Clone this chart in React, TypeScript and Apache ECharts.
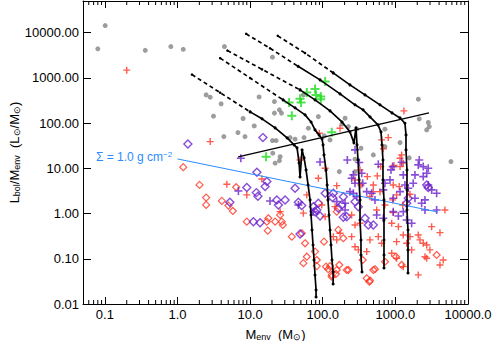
import React, { useEffect, useRef } from "react";
import * as echarts from "echarts";

const FONT = "Liberation Sans, Arial, Helvetica, sans-serif";

// ---- data (M_env [Msun], L_bol/M_env [Lsun/Msun]) ----
const greyPoints: [number, number][] = [
  [0.08, 4380], [0.101, 14300], [0.36, 4050], [0.81, 4920], [1.2, 4270], [4.43, 4920],
  [2.48, 420], [2.82, 374], [3.99, 266], [3.13, 142], [8.0, 126], [6.8, 61.6], [4.35, 50.2],
  [8.5, 50.2], [20.3, 2870], [13.3, 379], [21.6, 299], [25.3, 196], [21.6, 166], [27.0, 166],
  [54, 420], [2070, 338], [2130, 124], [11.4, 86.6], [20.3, 41.0], [22.8, 41.0], [35.5, 47.7],
  [41.6, 44.0], [63.4, 77.1], [105, 52.1], [126, 42.5], [294, 73.2], [225, 83.6], [719, 73.2],
  [1160, 37.0], [2840, 103], [2930, 83.6], [5820, 14.1], [20.5, 21.6], [25.9, 18.1], [25.3, 14.8],
  [278, 15.9], [497, 19.8], [719, 30.2], [1550, 17.0], [22.1, 13.0], [184, 94.5], [336, 27.8],
  [203, 128], [87, 139], [2700, 70.7], [55.3, 47.7], [169, 8.45], [278, 8.45],
];

const greenPlus: [number, number][] = [
  [34.4, 284], [37.5, 146], [48.7, 343], [50.3, 284], [60.3, 472], [78.3, 570], [80.9, 420],
  [93.9, 385], [93.9, 338], [108, 827], [133, 62.9], [16.6, 18.1],
];

const redPlus: [number, number][] = [
  [0.2, 1480], [2.82, 38.9], [1310, 186], [173, 77.1], [89.8, 59.7], [48.7, 15.3], [648, 42.5],
  [798, 47.7], [682, 26.9], [1220, 19.8], [1160, 16.7], [1285, 13.0], [957, 11.5], [108, 10.0],
  [87, 6.04], [156, 4.14], [96.9, 1.55], [60.3, 2.58], [14.5, 5.82], [25.9, 1.1], [54.1, 1.02],
  [148, 1.42], [326, 9.21], [278, 5.54], [336, 4.29], [4.78, 4.45], [9.0, 2.58], [1160, 10.9],
  [628, 10.9], [564, 6.79], [411, 6.55], [497, 4.29], [935, 4.29], [1130, 3.94], [497, 3.05],
  [614, 3.05], [1040, 2.58], [918, 2.0], [447, 2.36], [719, 1.55], [553, 1.2], [1260, 1.55],
  [1590, 2.67], [4810, 1.2], [935, 1.05], [890, 0.61], [1100, 0.513], [1285, 0.336], [1040, 0.239],
  [1430, 0.22], [1675, 0.157], [2065, 0.336], [2180, 0.261], [2420, 0.22], [2990, 0.157],
  [3160, 0.513], [4110, 0.378], [4560, 0.094], [4110, 0.073], [2700, 0.103], [2065, 0.044],
  [1285, 0.067], [890, 0.132], [1040, 0.103], [582, 0.308], [447, 0.261], [403, 0.144], [648, 0.22],
  [1590, 0.308], [2700, 0.202], [140, 0.308], [156, 0.261], [108, 0.854], [250, 0.93], [278, 0.56],
  [326, 0.61], [173, 0.367], [250, 0.308], [278, 0.185], [309, 0.157], [2555, 0.111],
];

const purplePlus: [number, number][] = [
  [7.45, 16.7], [278, 25.5], [218, 15.3], [319, 13.4], [582, 12.3], [1220, 13.6], [2130, 15.3],
  [2065, 11.9], [2420, 10.9], [91.8, 13.8], [250, 6.04], [344, 7.79], [278, 4.68], [18.8, 1.9],
  [46.2, 1.55], [74.3, 1.1], [237, 3.05], [294, 2.36], [203, 1.69], [156, 1.83], [203, 1.2],
  [6.9, 3.16], [2835, 10.0], [918, 10.9], [870, 9.21], [1285, 7.14], [1860, 7.14], [2420, 6.55],
  [2700, 7.79], [843, 5.54], [719, 4.68], [1355, 4.29], [1760, 4.68], [682, 3.33], [1160, 3.05],
  [1505, 3.63], [3160, 3.33], [3700, 2.81], [935, 2.18], [1860, 2.18], [2555, 2.0], [1285, 1.1],
  [935, 1.1], [524, 2.0], [403, 3.05], [1100, 0.885], [1430, 0.722], [1675, 0.61], [553, 0.93],
  [682, 0.787], [264, 7.14], [355, 4.68], [472, 2.81], [264, 2.81], [2555, 1.2], [2300, 1.69],
  [2835, 4.29], [3700, 1.2],
];

const redDiamonds: [number, number][] = [
  [1.2, 10.6], [2.01, 4.29], [6.42, 3.82], [2.48, 2.25], [2.48, 1.55], [4.08, 1.9], [5.03, 1.5],
  [5.78, 1.14], [9.0, 0.662], [17.8, 0.787], [17.0, 0.662], [22.1, 0.662], [27.3, 0.662],
  [25.9, 0.931], [28.2, 0.56], [37.5, 0.308], [51.4, 0.367], [54.1, 0.08], [60.3, 0.111],
  [82.7, 0.069], [78.3, 0.144], [104, 0.239], [111, 0.067], [126, 0.069], [133, 0.044], [152, 0.046],
  [156, 0.0565], [169, 0.073], [164, 0.434], [192, 0.284], [225, 0.0565], [355, 0.094], [403, 0.037],
  [438, 0.031], [524, 0.0586], [1220, 0.073], [3700, 0.121], [1020, 0.111], [719, 0.086],
  [497, 0.0565], [447, 0.033], [17.5, 0.419], [57.1, 0.22], [82.7, 0.094], [119, 0.0586],
  [133, 0.04], [214, 0.0565], [156, 1.1],
];

const purpleDiamonds: [number, number][] = [
  [1.39, 34.6], [15.0, 47.7], [12.4, 8.2], [17.0, 5.08], [16.1, 3.94], [12.2, 2.9], [12.8, 2.4],
  [41.6, 3.63], [23.3, 2.0], [30.3, 2.0], [24.5, 1.55], [46.2, 1.78], [51.4, 1.5], [108, 2.81],
  [140, 2.81], [136, 2.25], [192, 2.36], [183, 1.55], [164, 1.31], [278, 1.83], [309, 1.42],
  [78.3, 1.1], [74.3, 1.42], [9.0, 3.78], [5.26, 1.78], [11.1, 0.662], [13.7, 0.629], [48.7, 0.354],
  [91.8, 0.885], [192, 0.828], [2700, 4.29], [2835, 3.74], [1505, 2.18], [1430, 1.69], [424, 0.56],
  [497, 0.56], [382, 0.787], [87, 1.69], [82.7, 1.2], [214, 0.854],
];

// evolutionary tracks: dashed (late) part and solid part
const track1Dashed: [number, number][] = [[1.58, 1181], [3.87, 470], [10.0, 177]];
const track1Solid: [number, number][] = [
  [10.0, 177], [14.6, 124], [22.1, 78.3], [32.3, 47.0], [40.3, 32.9], [44.3, 28.3], [47.2, 13.2],
  [48.7, 6.45], [51.9, 25.5], [55.3, 17.0], [58.9, 9.21], [62.8, 4.29], [66.9, 2.0], [69.0, 0.931],
  [71.2, 0.434], [73.5, 0.202], [75.9, 0.0941], [78.3, 0.0438], [80.9, 0.0204], [80.9, 0.0143],
];
const track2Dashed: [number, number][] = [[3.87, 2724], [10.0, 989], [28.4, 326]];
const track2Solid: [number, number][] = [
  [28.4, 326], [41.6, 217], [57.1, 152], [69.0, 106], [78.3, 70.7], [89.0, 54.8], [97.8, 44.7],
  [101, 32.9], [104, 19.8], [111, 9.21], [115, 4.29], [118, 2.0], [122, 0.931], [126, 0.434],
  [130, 0.202], [134, 0.0941], [139, 0.0511], [139, 0.0277],
];
const track3Dashed: [number, number][] = [[4.87, 4010], [14.6, 1540], [48.7, 542]];
const track3Solid: [number, number][] = [
  [48.7, 542], [78.3, 326], [126, 186], [184, 106], [237, 63.8], [269, 36.5], [287, 78.3],
  [296, 32.9], [306, 15.3], [316, 5.54], [326, 2.0], [326, 0.722], [336, 0.261], [336, 0.121],
  [347, 0.0511],
];
const track4Dashed: [number, number][] = [[8.81, 9390], [18.8, 4510], [45.7, 1800]];
const track4Solid: [number, number][] = [
  [45.7, 1800], [91.8, 902], [173, 442], [278, 253], [359, 196], [447, 137], [576, 91.2],
  [634, 63.8], [654, 32.9], [675, 15.3], [675, 5.54], [697, 2.0], [697, 0.722], [697, 0.261],
  [697, 0.121], [697, 0.0626],
];
const track5Dashed: [number, number][] = [[24.0, 8480], [57.1, 3530], [139, 1288]];
const track5Solid: [number, number][] = [
  [139, 1288], [237, 699], [382, 420], [614, 253], [898, 168], [1157, 130], [1355, 98.9],
  [1400, 54.8], [1400, 25.5], [1445, 9.21], [1445, 3.33], [1445, 1.2], [1492, 0.434],
  [1492, 0.157], [1492, 0.0485],
];

const blackLine: [number, number][] = [[6.84, 17.9], [2900, 168]];
const sigmaLine: [number, number][] = [[1.0, 16.1], [3850, 1.08]];
const sigmaLabel = "Σ = 1.0 g cm";

// axis ranges and minor tick positions
const xRange = [0.05, 10000];
const yRange = [0.01, 50000];
const xMinorTicks = [
  0.06, 0.07, 0.08, 0.09,
  0.2, 0.3, 0.4, 0.5, 0.6, 0.7, 0.8, 0.9,
  2, 3, 4, 5, 6, 7, 8, 9,
  20, 30, 40, 50, 60, 70, 80, 90,
  200, 300, 400, 500, 600, 700, 800, 900,
  2000, 3000, 4000, 5000, 6000, 7000, 8000, 9000,
];

const GREY = "#858585";
const RED = "#ff3322";
const PURPLE = "#6a22cc";
const GREEN = "#22dd22";
const BLUE = "#2a8cff";

const PLUS = "path://M4,0H6V4H10V6H6V10H4V6H0V4H4Z";
const PLUS_THICK = "path://M3.9,0H6.1V3.9H10V6.1H6.1V10H3.9V6.1H0V3.9H3.9Z";

export default function App() {
  const ref = useRef<HTMLDivElement>(null);
  useEffect(() => {
    if (!ref.current) return;
    const chart = echarts.init(ref.current, undefined, { renderer: "svg" });

    const trackSeries: any[] = [];
    const dashed = [track1Dashed, track2Dashed, track3Dashed, track4Dashed, track5Dashed];
    const solid = [track1Solid, track2Solid, track3Solid, track4Solid, track5Solid];
    dashed.forEach((d) => {
      trackSeries.push({
        type: "line", data: d, symbol: "circle", symbolSize: 2.5, showSymbol: true,
        itemStyle: { color: "#000" },
        lineStyle: { color: "#000", width: 1.7, type: [4, 3] }, z: 5,
      });
    });
    solid.forEach((d) => {
      trackSeries.push({
        type: "line", data: d, symbol: "circle", symbolSize: 3, showSymbol: true,
        itemStyle: { color: "#000" },
        lineStyle: { color: "#000", width: 1.7 }, z: 5,
      });
    });

    const labelStyle = { fontFamily: FONT, fontSize: 13, color: "#000" };
    const nameRich = {
      n: { fontFamily: FONT, fontSize: 13, color: "#000", lineHeight: 14 },
      s: { fontFamily: FONT, fontSize: 9, color: "#000", lineHeight: 14, verticalAlign: "bottom", padding: [4, 0, 0, 0] },
    };

    chart.setOption({
      animation: false,
      grid: { left: 83, right: 25, top: 1, bottom: 37, containLabel: false, outerBoundsMode: "none" },
      xAxis: [
        {
          type: "log", min: xRange[0], max: xRange[1], logBase: 10,
          axisLine: { show: true, lineStyle: { color: "#000", width: 1 } },
          axisTick: { show: true, inside: true, length: 7, lineStyle: { color: "#000" } },
          axisLabel: {
            ...labelStyle, margin: 4, showMinLabel: false, showMaxLabel: true,
            formatter: (v: number) => v.toFixed(1),
          },
          splitLine: { show: false },
          name: "{n|M}{s|env}{n|  (M}{s|⊙}{n|)}",
          nameLocation: "middle",
          nameGap: 23,
          nameMoveOverlap: false,
          nameTextStyle: { rich: nameRich },
        },
        {
          type: "log", min: xRange[0], max: xRange[1], position: "top",
          axisLine: { show: true, lineStyle: { color: "#000", width: 1 } },
          axisTick: { show: true, inside: true, length: 7, lineStyle: { color: "#000" } },
          axisLabel: { show: false },
          splitLine: { show: false },
        },
      ],
      yAxis: [
        {
          type: "log", min: yRange[0], max: yRange[1],
          axisLine: { show: true, lineStyle: { color: "#000", width: 1 } },
          axisTick: { show: true, inside: true, length: 8, lineStyle: { color: "#000" } },
          axisLabel: {
            ...labelStyle, margin: 4, showMaxLabel: false, showMinLabel: true,
            formatter: (v: number) => v.toFixed(2),
          },
          splitLine: { show: false },
          name: "{n|L}{s|bol}{n|/M}{s|env}{n|  (L}{s|⊙}{n|/M}{s|⊙}{n|)}",
          nameLocation: "middle",
          nameGap: 62,
          nameRotate: 90,
          nameMoveOverlap: false,
          nameTextStyle: { rich: nameRich },
        },
        {
          type: "log", min: yRange[0], max: yRange[1], position: "right",
          axisLine: { show: true, lineStyle: { color: "#000", width: 1 } },
          axisTick: { show: true, inside: true, length: 8, lineStyle: { color: "#000" } },
          axisLabel: { show: false },
          splitLine: { show: false },
        },
      ],
      graphic: [
        {
          type: "text", left: 96, top: 150, z: 100,
          style: {
            text: `{a|${sigmaLabel}}{b|−2}`,
            rich: {
              a: { fontFamily: FONT, fontSize: 12, fill: BLUE, lineHeight: 14 },
              b: { fontFamily: FONT, fontSize: 8, fill: BLUE, lineHeight: 14, verticalAlign: "top" },
            },
          },
        },
      ],
      series: [
        {
          type: "custom", coordinateSystem: "cartesian2d", clip: false, silent: true,
          data: xMinorTicks.map((v) => [v, 1]),
          renderItem: (params: any, api: any) => {
            const x = api.coord([api.value(0), 1])[0];
            const cs = params.coordSys;
            const top = cs.y;
            const bottom = cs.y + cs.height;
            return {
              type: "group",
              children: [
                { type: "line", shape: { x1: x, y1: bottom, x2: x, y2: bottom - 4 }, style: { stroke: "#000", lineWidth: 1 } },
                { type: "line", shape: { x1: x, y1: top, x2: x, y2: top + 4 }, style: { stroke: "#000", lineWidth: 1 } },
              ],
            };
          },
        },
        {
          type: "scatter", data: greyPoints, symbol: "circle", symbolSize: 5,
          itemStyle: { color: GREY },
        },
        {
          type: "scatter", data: redDiamonds, symbol: "diamond", symbolSize: 7,
          itemStyle: { color: "rgba(0,0,0,0)", borderColor: RED, borderWidth: 1.2 },
        },
        {
          type: "scatter", data: purpleDiamonds, symbol: "diamond", symbolSize: 8,
          itemStyle: { color: "rgba(0,0,0,0)", borderColor: PURPLE, borderWidth: 1.4 },
        },
        {
          type: "scatter", data: redPlus, symbol: PLUS, symbolSize: 7,
          itemStyle: { color: RED },
        },
        {
          type: "scatter", data: purplePlus, symbol: PLUS, symbolSize: 8,
          itemStyle: { color: PURPLE },
        },
        {
          type: "scatter", data: greenPlus, symbol: PLUS_THICK, symbolSize: 9,
          itemStyle: { color: GREEN },
        },
        {
          type: "line", data: sigmaLine, showSymbol: false, symbol: "none",
          lineStyle: { color: BLUE, width: 1 }, z: 4,
        },
        {
          type: "line", data: blackLine, showSymbol: false, symbol: "none",
          lineStyle: { color: "#000", width: 1.5 }, z: 5,
        },
        ...trackSeries,
      ],
    });
    return () => chart.dispose();
  }, []);
  return <div ref={ref} style={{ width: 493, height: 341, position: "absolute", left: 0, top: 0 }} />;
}
